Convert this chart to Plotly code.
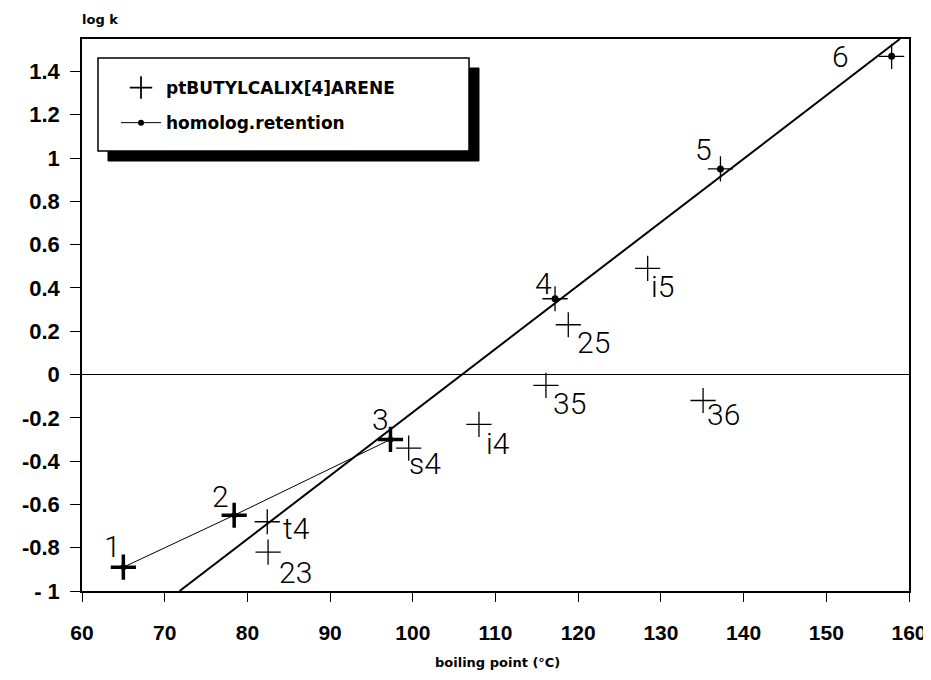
import plotly.graph_objects as go

# ---------------- data ----------------
homolog_labels = ["1", "2", "3", "4", "5", "6"]
homolog_bp = [65.0, 78.4, 97.3, 117.2, 137.2, 157.9]
homolog_logk = [-0.89, -0.65, -0.30, 0.35, 0.95, 1.47]

compound_labels = ["t4", "23", "s4", "i4", "35", "25", "i5", "36"]
compound_bp = [82.4, 82.5, 99.5, 108.0, 116.1, 118.8, 128.4, 135.1]
compound_logk = [-0.68, -0.82, -0.34, -0.23, -0.05, 0.23, 0.49, -0.12]

fit_bp = [71.8, 158.9]
fit_logk = [-1.0, 1.55]

x_tickvals = [60, 70, 80, 90, 100, 110, 120, 130, 140, 150, 160]
y_tickvals = [-1, -0.8, -0.6, -0.4, -0.2, 0, 0.2, 0.4, 0.6, 0.8, 1, 1.2, 1.4]
y_ticktext = ["- 1", "-0.8", "-0.6", "-0.4", "-0.2", "0", "0.2", "0.4",
              "0.6", "0.8", "1", "1.2", "1.4"]

# ---------------- styling / layout ----------------
OFF = 8                      # default page body margin of the html page
W, H = 931 - OFF, 680 - 2 * OFF
# target plot-area edges in window pixels
PLOT_L, PLOT_R, PLOT_T, PLOT_B = 82, 909, 39, 591
ML, MT = PLOT_L - OFF, PLOT_T - OFF
MR, MB = W - (PLOT_R - OFF), H - (PLOT_B - OFF)
PW, PH = W - ML - MR, H - MT - MB

def px_x(p):
    return (p - OFF - ML) / PW

def px_y(p):
    return (H - MB - (p - OFF)) / PH

# label offsets in pixels (dx right, dy up)
homolog_off = {"1": (-11, 21), "2": (-14, 19), "3": (-10, 20),
               "4": (-12, 15), "5": (-17, 19), "6": (-51, 0)}
compound_off = {"t4": (29, -7), "23": (27, -20), "s4": (16, -15),
                "i4": (19, -19), "35": (24, -18), "25": (25, -18),
                "i5": (15, -18), "36": (20, -14)}

xtick_font = dict(family="Liberation Sans, Arial, sans-serif", size=21,
                  color="black", weight="bold")
ytick_font = dict(family="Liberation Sans, Arial, sans-serif", size=22,
                  color="black", weight="bold")
label_font = dict(family="Roboto, Lato, sans-serif", size=30,
                  color="black", weight=300)
small_bold = dict(family="DejaVu Sans, sans-serif", size=13, color="black",
                  weight="bold")

fig = go.Figure()

# regression line of homolog retention
fig.add_trace(go.Scatter(
    x=fit_bp, y=fit_logk, mode="lines",
    line=dict(color="black", width=2), showlegend=False, hoverinfo="skip"))

# ptBUTYLCALIX[4]ARENE crosses (homologs + other compounds)
all_bp = homolog_bp + compound_bp
all_logk = homolog_logk + compound_logk
cross_w = [3.5 if i < 3 else 1.3 for i in range(len(all_bp))]
fig.add_trace(go.Scatter(
    x=all_bp, y=all_logk, mode="markers", name="ptBUTYLCALIX[4]ARENE",
    legendgroup="a",
    marker=dict(symbol="cross-thin", size=18, color="black",
                line=dict(color="black", width=cross_w))))

# homolog retention: thin polyline for the first members + dots
fig.add_trace(go.Scatter(
    x=homolog_bp[:3], y=homolog_logk[:3], mode="lines+markers",
    name="homolog.retention", legendgroup="b",
    line=dict(color="black", width=1),
    marker=dict(symbol="circle", size=6, color="black")))
fig.add_trace(go.Scatter(
    x=homolog_bp[3:], y=homolog_logk[3:], mode="markers",
    showlegend=False, legendgroup="b",
    marker=dict(symbol="circle", size=7, color="black")))

annotations = []
for lab, xv, yv in zip(homolog_labels, homolog_bp, homolog_logk):
    dx, dy = homolog_off[lab]
    annotations.append(dict(x=xv, y=yv, xref="x", yref="y", text=lab,
                            showarrow=False, xshift=dx, yshift=dy,
                            font=label_font))
for lab, xv, yv in zip(compound_labels, compound_bp, compound_logk):
    dx, dy = compound_off[lab]
    annotations.append(dict(x=xv, y=yv, xref="x", yref="y", text=lab,
                            showarrow=False, xshift=dx, yshift=dy,
                            font=label_font))

# axis titles
annotations.append(dict(x=px_x(80), y=px_y(20), xref="paper", yref="paper",
                        xanchor="left", yanchor="middle", text="log k",
                        showarrow=False, font=small_bold))
annotations.append(dict(x=px_x(497), y=px_y(662), xref="paper", yref="paper",
                        xanchor="center", yanchor="middle",
                        text="boiling point (°C)", showarrow=False,
                        font=small_bold))

# legend frame with drop shadow
shapes = [
    dict(type="rect", xref="paper", yref="paper", layer="above",
         x0=px_x(108), x1=px_x(479), y0=px_y(161), y1=px_y(68),
         fillcolor="black", line=dict(color="black", width=1)),
    dict(type="rect", xref="paper", yref="paper", layer="above",
         x0=px_x(98), x1=px_x(469), y0=px_y(151), y1=px_y(58),
         fillcolor="white", line=dict(color="black", width=1.5)),
]

fig.update_layout(
    width=W, height=H, autosize=False,
    margin=dict(l=ML, r=MR, t=MT, b=MB, autoexpand=False),
    paper_bgcolor="white", plot_bgcolor="white",
    showlegend=True,
    legend=dict(x=px_x(116), y=px_y(70), xanchor="left", yanchor="top",
                bgcolor="rgba(0,0,0,0)", borderwidth=0,
                font=dict(family="DejaVu Sans, sans-serif", size=17,
                          color="black", weight="bold"),
                itemwidth=40, tracegroupgap=10),
    annotations=annotations,
    shapes=shapes,
    xaxis=dict(range=[60, 160], tickvals=x_tickvals, automargin=False,
               ticks="outside", ticklen=9, tickwidth=1.3, tickcolor="black",
               showline=True, linecolor="black", linewidth=1.5, mirror=True,
               showgrid=False, zeroline=False, tickfont=xtick_font,
               ticklabelstandoff=13, ticklabeloverflow="allow"),
    yaxis=dict(range=[-1, 1.55], tickvals=y_tickvals, ticktext=y_ticktext,
               automargin=False,
               ticks="outside", ticklen=10, tickwidth=1.3, tickcolor="black",
               showline=True, linecolor="black", linewidth=1.5, mirror=True,
               showgrid=False, zeroline=True, zerolinecolor="black",
               zerolinewidth=1.3, tickfont=ytick_font, ticklabelstandoff=6),
)

fig.write_html("out.html", config={"displayModeBar": False})
